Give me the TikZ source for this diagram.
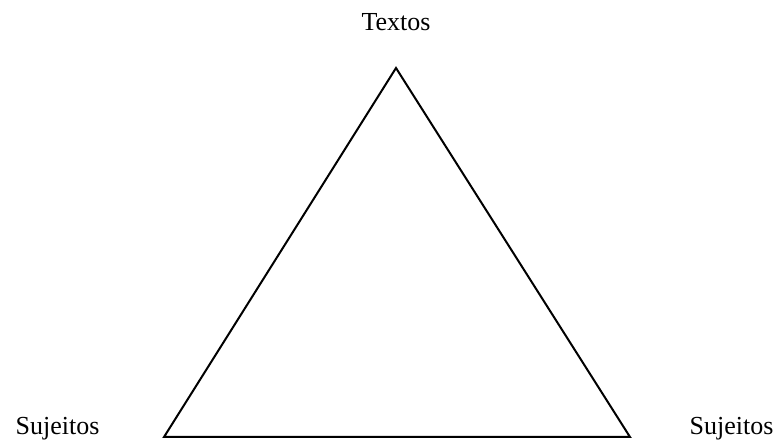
\documentclass[tikz,border=0pt]{standalone}
\usepackage{fontspec}
\setmainfont{Liberation Serif}
\begin{document}
\begin{tikzpicture}[x=1pt,y=1pt,
  lbl/.style={anchor=base,inner sep=0pt,font=\fontsize{26}{30}\selectfont},
  edge/.style={line width=2pt,line join=miter}]
\useasboundingbox (0,0) rectangle (780,441);
\coordinate (top) at (396,373);
\coordinate (bl) at (164,4);
\coordinate (br) at (630,4);
\draw[edge] (top) -- (bl) -- (br) -- cycle;
\node[lbl] (t) at (396,410) {Textos};
\node[lbl] (sl) at (57.5,6) {Sujeitos};
\node[lbl] (sr) at (731.5,6) {Sujeitos};
\end{tikzpicture}
\end{document}
